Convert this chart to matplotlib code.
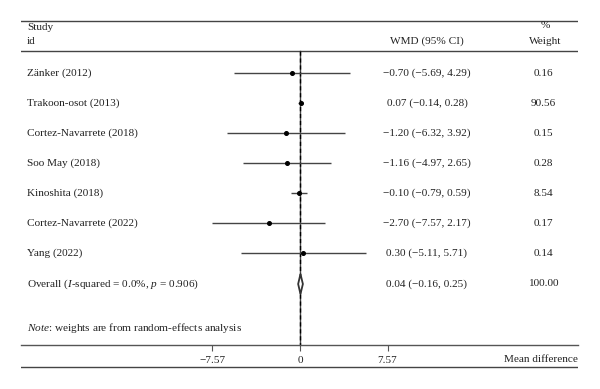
import numpy as np
import matplotlib
matplotlib.use("Agg")
import matplotlib.pyplot as plt

plt.rcParams['font.family'] = ['Liberation Serif', 'DejaVu Serif']
plt.rcParams['mathtext.fontset'] = 'custom'
plt.rcParams['mathtext.rm'] = 'Liberation Serif'
plt.rcParams['mathtext.it'] = 'Liberation Serif:italic'

# data
studies = ['Zänker (2012)', 'Trakoon-osot (2013)', 'Cortez-Navarrete (2018)',
           'Soo May (2018)', 'Kinoshita (2018)', 'Cortez-Navarrete (2022)',
           'Yang (2022)']
wmd = [-0.70, 0.07, -1.20, -1.16, -0.10, -2.70, 0.30]
ci_lo = [-5.69, -0.14, -6.32, -4.97, -0.79, -7.57, -5.11]
ci_hi = [4.29, 0.28, 3.92, 2.65, 0.59, 2.17, 5.71]
weights = [0.16, 90.56, 0.15, 0.28, 8.54, 0.17, 0.14]
overall = 0.04
overall_lo = -0.16
overall_hi = 0.25
xticks = [-7.57, 0, 7.57]

def fmt(v):
    return ('%.2f' % v).replace('-', '\u2212')

fig = plt.figure(figsize=(6, 3.89), dpi=100)
# axes spans x pixels 21..578, full height
ax = fig.add_axes([21 / 600, 0, (578 - 21) / 600, 1])
px = 11.56  # pixels per unit
ax.set_xlim((21 - 300) / px, (578 - 300) / px)
# y in row units: row 1 at pixel 73, 30 px per row
def row(p):
    return 1 + (p - 73) / 30.0
ax.set_ylim(row(389), row(0))

rows = np.arange(1, len(studies) + 1)
y_over = row(284)
y_top, y_head, y_axis, y_bot = row(21), row(51), row(345), row(367)

for s in ['top', 'left', 'right']:
    ax.spines[s].set_visible(False)
ax.spines['bottom'].set_position(('data', y_axis))
ax.spines['bottom'].set_color('#555555')
ax.spines['bottom'].set_linewidth(1.0)
ax.set_yticks([])
ax.set_xticks(xticks)
ax.set_xticklabels([fmt(t) if t != 0 else '0' for t in xticks])
ax.tick_params(axis='x', direction='out', length=4, width=0.8,
               color='#555555', labelsize=8.1, pad=4, labelcolor='#222222')
ax.patch.set_alpha(0)

ax.axhline(y_top, color='#444444', lw=1.0)
ax.axhline(y_head, color='#444444', lw=1.0)
ax.axhline(y_bot, color='#444444', lw=1.0)

# reference lines
ax.plot([0, 0], [y_head, y_axis], color='#444444', lw=1.0)
ax.plot([overall, overall], [y_head, y_axis], color='black', lw=1.0,
        ls=(0, (3, 2)))

# study CIs
ax.hlines(rows, ci_lo, ci_hi, color='#444444', lw=1.0)
ax.plot(wmd, rows, 'o', color='black', ms=2.6)

# overall diamond
dh = 10 / 30.0
ax.fill([overall_lo, overall, overall_hi, overall],
        [y_over, y_over - dh, y_over, y_over + dh],
        facecolor='white', edgecolor='#333333', lw=1.3, zorder=3)

tx = lambda p: (p - 300) / px
fs = 8.1
tc = '#222222'
ax.text(tx(27), row(27), 'Study', fontsize=fs, va='center', ha='left', color=tc)
ax.text(tx(27), row(41), 'id', fontsize=fs, va='center', ha='left', color=tc)
ax.text(tx(427), row(41), 'WMD (95% CI)', fontsize=fs, va='center', ha='center', color=tc)
ax.text(tx(545), row(26), '%', fontsize=fs, va='center', ha='center', color=tc)
ax.text(tx(545), row(41), 'Weight', fontsize=fs, va='center', ha='center', color=tc)

for i, name in enumerate(studies):
    y = rows[i]
    ax.text(tx(27), y, name, fontsize=fs, va='center', ha='left', color=tc)
    ax.text(tx(427), y, '%s (%s, %s)' % (fmt(wmd[i]), fmt(ci_lo[i]), fmt(ci_hi[i])),
            fontsize=fs, va='center', ha='center', color=tc)
    ax.text(tx(543), y, '%.2f' % weights[i], fontsize=fs, va='center', ha='center', color=tc)

ax.text(tx(27), y_over, r'Overall ($\mathit{I}$-squared = 0.0%, $\mathit{p}$ = 0.906)',
        fontsize=fs, va='center', ha='left', color=tc)
ax.text(tx(427), y_over, '%s (%s, %s)' % (fmt(overall), fmt(overall_lo), fmt(overall_hi)),
        fontsize=fs, va='center', ha='center', color=tc)
ax.text(tx(543), y_over, '%.2f' % sum(weights), fontsize=fs, va='center', ha='center', color=tc)

ax.text(tx(27), row(328), r'$\mathit{Note}$: weights are from random-effects analysis',
        fontsize=fs, va='center', ha='left', color=tc)
ax.text(tx(578), row(359), 'Mean difference', fontsize=fs, va='center', ha='right', color=tc)

fig.savefig('out.png', dpi=100)
